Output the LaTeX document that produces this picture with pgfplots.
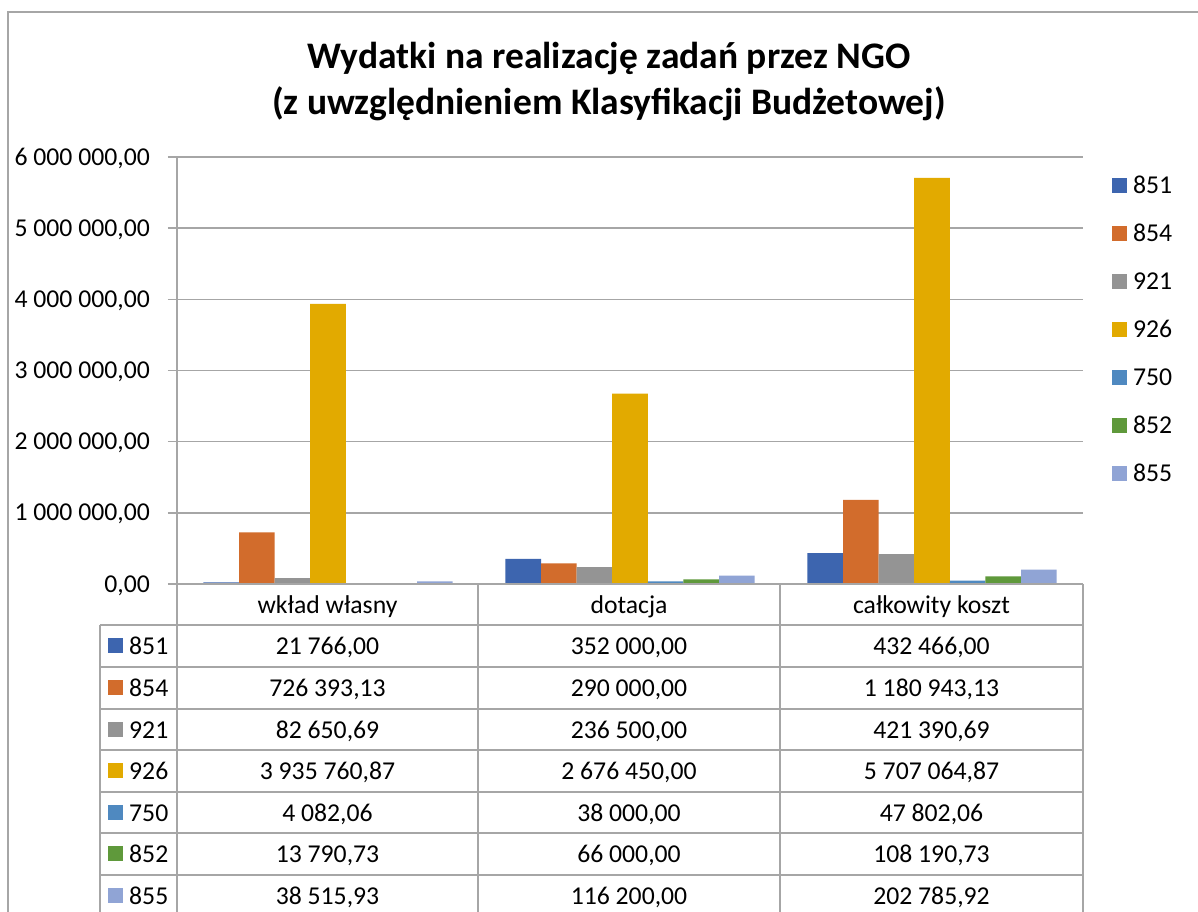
\documentclass[border=0pt]{standalone}
\usepackage{pgfplots}
\pgfplotsset{compat=1.18}
\usepackage{fontspec}
\setmainfont{Carlito}
\definecolor{c851}{RGB}{61,101,175}
\definecolor{c854}{RGB}{210,108,44}
\definecolor{c921}{RGB}{148,148,148}
\definecolor{c926}{RGB}{226,170,0}
\definecolor{c750}{RGB}{79,137,192}
\definecolor{c852}{RGB}{95,153,59}
\definecolor{c855}{RGB}{144,164,213}
\definecolor{gridc}{RGB}{166,166,166}
\newcommand{\tf}{\fontsize{25.7}{30.8}\selectfont}
\begin{document}
\begin{tikzpicture}
\useasboundingbox (0pt,0pt) rectangle (1198pt,911pt);
\fill[white] (0pt,0pt) rectangle (1198pt,911pt);
\draw[gridc, line width=1.5pt] (8pt,-5pt) -- (8pt,899pt) -- (1205pt,899pt);
\begin{axis}[
  at={(177pt,327pt)}, anchor=south west,
  scale only axis, width=906pt, height=427pt,
  xmin=-0.5, xmax=2.5, ymin=0, ymax=6000000,
  ybar=0pt, bar width=35.6pt,
  xtick=\empty,
  ytick={0,1000000,2000000,3000000,4000000,5000000,6000000},
  yticklabels={{0,00},{1 000 000,00},{2 000 000,00},{3 000 000,00},{4 000 000,00},{5 000 000,00},{6 000 000,00}},
  scaled y ticks=false,
  yticklabel style={font=\tf, anchor=east, inner sep=0pt, text height=16.2pt, text depth=0pt, xshift=-18pt},
  axis lines*=left,
  axis line style={-, gridc, line width=1.5pt},
  major tick length=9pt, tick align=outside,
  ytick style={gridc, line width=1.5pt},
  ymajorgrids, grid style={gridc, line width=1.5pt},
  legend cell align=left,
  legend style={at={(axis description cs:1.032,0.953)}, anchor=north west, draw=none, fill=none,
    inner sep=0pt, outer sep=0pt, row sep=31.8pt, font=\tf,
    nodes={inner sep=0pt, text height=16.2pt, text depth=0pt},
    /tikz/every odd column/.append style={column sep=6pt}},
  legend image code/.code={\fill[#1,draw=none] (0pt,-7.5pt) rectangle (15pt,7.5pt);},
]
\addplot[fill=c851, draw=none] coordinates {(0,21766) (1,352000) (2,432466)};
\addlegendentry{851}
\addplot[fill=c854, draw=none] coordinates {(0,726393.13) (1,290000) (2,1180943.13)};
\addlegendentry{854}
\addplot[fill=c921, draw=none] coordinates {(0,82650.69) (1,236500) (2,421390.69)};
\addlegendentry{921}
\addplot[fill=c926, draw=none] coordinates {(0,3935760.87) (1,2676450) (2,5707064.87)};
\addlegendentry{926}
\addplot[fill=c750, draw=none] coordinates {(0,4082.06) (1,38000) (2,47802.06)};
\addlegendentry{750}
\addplot[fill=c852, draw=none] coordinates {(0,13790.73) (1,66000) (2,108190.73)};
\addlegendentry{852}
\addplot[fill=c855, draw=none] coordinates {(0,38515.93) (1,116200) (2,202785.92)};
\addlegendentry{855}
\end{axis}
% title
\node[font=\fontsize{37.5}{45}\selectfont\bfseries, anchor=base] at (609pt,842pt) {Wydatki na realizację zadań przez NGO};
\node[font=\fontsize{37.5}{45}\selectfont\bfseries, anchor=base] at (609pt,796pt) {(z uwzględnieniem Klasyfikacji Budżetowej)};
% table grid
\begin{scope}[gridc, line width=1.5pt]
\draw (177pt,327pt) -- (1083pt,327pt);
\foreach \y in {286,244,202,161,119,78,36} {\draw (100pt,\y pt) -- (1083pt,\y pt);}
\draw (100pt,286pt) -- (100pt,-10pt);
\foreach \x in {177,478,780,1083} {\draw (\x pt,327pt) -- (\x pt,-10pt);}
\end{scope}
% header
\begin{scope}[every node/.style={font=\tf, anchor=base, inner sep=0pt}]
\node at (327.5pt,298pt) {wkład własny};
\node at (629pt,298pt) {dotacja};
\node at (931.5pt,298pt) {całkowity koszt};
% rows
\node at (327.5pt,257pt) {21 766,00};
\node at (629pt,257pt) {352 000,00};
\node at (931.5pt,257pt) {432 466,00};
\node at (327.5pt,215pt) {726 393,13};
\node at (629pt,215pt) {290 000,00};
\node at (931.5pt,215pt) {1 180 943,13};
\node at (327.5pt,173pt) {82 650,69};
\node at (629pt,173pt) {236 500,00};
\node at (931.5pt,173pt) {421 390,69};
\node at (327.5pt,132pt) {3 935 760,87};
\node at (629pt,132pt) {2 676 450,00};
\node at (931.5pt,132pt) {5 707 064,87};
\node at (327.5pt,90pt) {4 082,06};
\node at (629pt,90pt) {38 000,00};
\node at (931.5pt,90pt) {47 802,06};
\node at (327.5pt,49pt) {13 790,73};
\node at (629pt,49pt) {66 000,00};
\node at (931.5pt,49pt) {108 190,73};
\node at (327.5pt,7pt) {38 515,93};
\node at (629pt,7pt) {116 200,00};
\node at (931.5pt,7pt) {202 785,92};
% key column
\foreach \yb/\lab/\col in {257/851/c851,215/854/c854,173/921/c921,132/926/c926,90/750/c750,49/852/c852,7/855/c855} {
  \fill[\col] (108pt,\yb pt+1pt) rectangle (123pt,\yb pt+16pt);
  \node[anchor=base west] at (129pt,\yb pt) {\lab};
}
\end{scope}
\end{tikzpicture}
\end{document}
